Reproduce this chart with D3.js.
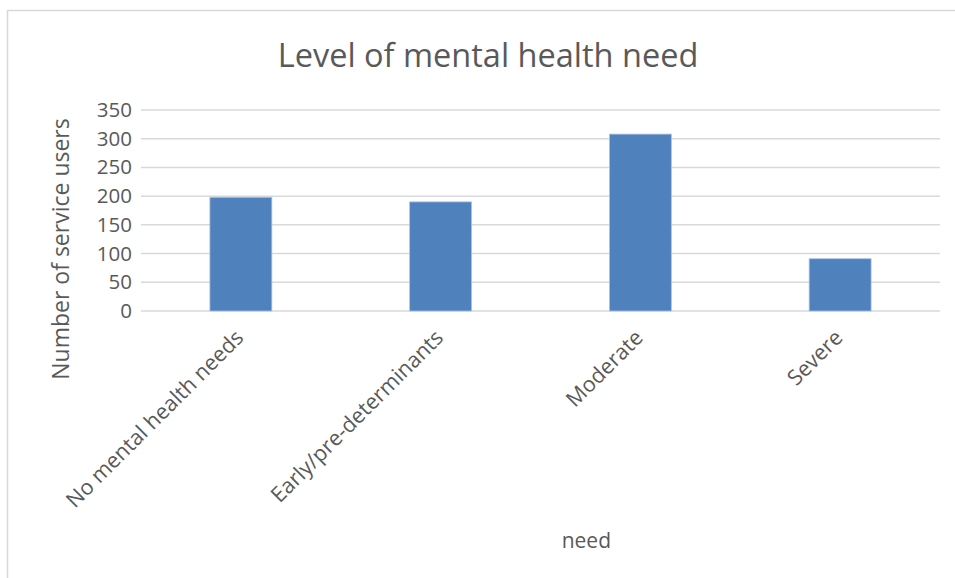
<!DOCTYPE html>
<html><head><meta charset="utf-8">
<script src="https://cdn.jsdelivr.net/npm/d3@7"></script>
<style>body{margin:0;background:#fff}svg{display:block}text{font-family:"Open Sans",sans-serif;fill:#595959}</style>
</head><body>
<svg id="c" width="955" height="578"></svg>
<script>
const categories = ["No mental health needs","Early/pre-determinants","Moderate","Severe"];
const values = [198, 190, 308, 91];
const yTicks = [0,50,100,150,200,250,300,350];
const title = "Level of mental health need";
const yTitle = "Number of service users";
const xTitle = "Level of mental health need";

const svg = d3.select("#c");
// chart border
svg.append("path").attr("d","M7.5,578 V10.5 H955").attr("fill","none").attr("stroke","#d9d9d9").attr("stroke-width",1.5);

const m = {l:141, r:940, t:110, b:311};
const x = d3.scaleBand().domain(categories).range([m.l, m.r]).paddingInner(0.69).paddingOuter(0.345);
const y = d3.scaleLinear().domain([0,350]).range([m.b, m.t]);

// gridlines
svg.append("g").selectAll("line").data(yTicks).join("line")
  .attr("x1",m.l).attr("x2",m.r).attr("y1",d=>y(d)).attr("y2",d=>y(d))
  .attr("stroke","#d9d9d9").attr("stroke-width",1.5);

// y tick labels
const ya = svg.append("g").attr("transform",`translate(${m.l},0)`)
  .call(d3.axisLeft(y).tickValues(yTicks).tickSize(0).tickPadding(9));
ya.select(".domain").remove();
ya.selectAll("text").attr("font-size",20.5).style("font-family","'Open Sans',sans-serif").attr("fill","#595959");

// bars
svg.append("g").selectAll("rect").data(values).join("rect")
  .attr("x",(d,i)=>x(categories[i])).attr("width",x.bandwidth())
  .attr("y",d=>y(d)).attr("height",d=>y(0)-y(d))
  .attr("fill","#4f81bd").attr("stroke","#a9c2e2").attr("stroke-width",0.8);

// x labels
const xa = svg.append("g").attr("transform",`translate(0,${m.b})`)
  .call(d3.axisBottom(x).tickSize(0).tickPadding(0));
xa.select(".domain").remove();
xa.selectAll("text").attr("font-size",21.5).style("font-family","'Open Sans',sans-serif").attr("fill","#595959")
  .attr("text-anchor","end").attr("dy",0)
  .attr("transform","translate(4,28) rotate(-45)");

// title
svg.append("text").attr("x",488).attr("y",67).attr("text-anchor","middle").attr("font-size",32.5).text(title);

// y title
svg.append("text").attr("transform","translate(69,249) rotate(-90)").attr("text-anchor","middle").attr("font-size",23).text(yTitle);

// x title (partly hidden)
svg.append("clipPath").attr("id","xc").append("rect").attr("x",559).attr("y",500).attr("width",100).attr("height",70);
svg.append("text").attr("clip-path","url(#xc)").attr("x",611).attr("y",548).attr("text-anchor","end").attr("font-size",21).text(xTitle);
</script>
</body></html>
